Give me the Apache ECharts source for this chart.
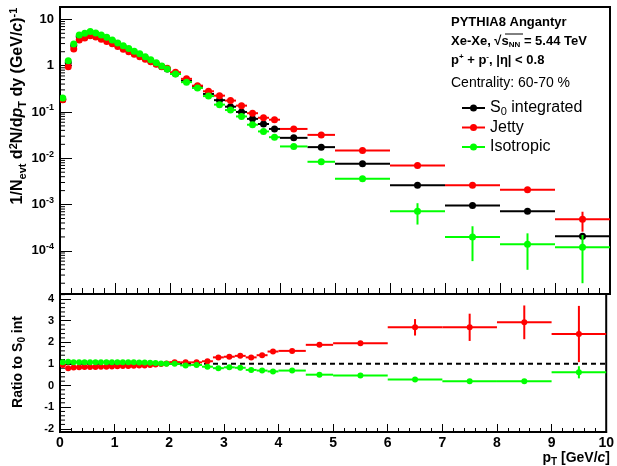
<!DOCTYPE html>
<html><head><meta charset="utf-8">
<script src="https://cdn.jsdelivr.net/npm/echarts@6/dist/echarts.min.js"></script>
<style>html,body{margin:0;padding:0;background:#fff}#c{width:617px;height:466px}</style>
</head><body><div id="c"></div>
<script>
// ---- data ----
const ptEdges = [0,0.1,0.2,0.3,0.4,0.5,0.6,0.7,0.8,0.9,1.0,1.1,1.2,1.3,1.4,1.5,1.6,1.7,1.8,1.9,2.0,2.2,2.4,2.6,2.8,3.0,3.2,3.4,3.6,3.8,4.0,4.5,5,6,7,8,9,10];
const xTickLabels = ['0','1','2','3','4','5','6','7','8','9','10'];

const s0Int = [0.187,1.16,2.73,4.26,4.67,5.14,4.77,4.3,3.8,3.36,2.9,2.52,2.2,1.92,1.7,1.47,1.28,1.1,0.96,0.85,
  0.67,0.475,0.345,0.245,0.18,0.13,0.10,0.071,0.055,0.043,
  0.0276,0.0174,0.0076,0.0026,0.00096,0.00072,0.000207];
const s0IntErr = [0,0,0,0,0,0,0,0,0,0,0,0,0,0,0,0,0,0,0,0, 0,0,0,0,0,0,0,0,0,0, 0,0,0,0.0001,0.00006,0.00005,0.00003];

const jetty = [0.183,0.95,2.3,3.6,3.96,4.42,4.15,3.74,3.34,2.99,2.61,2.27,2.0,1.77,1.56,1.38,1.22,1.07,0.95,0.875,
  0.72,0.52,0.37,0.28,0.225,0.176,0.137,0.094,0.075,0.068,
  0.043,0.032,0.0148,0.007,0.0026,0.0021,0.00048];
const jettyErr = [0,0,0,0,0,0,0,0,0,0,0,0,0,0,0,0,0,0,0,0, 0,0,0,0,0,0,0,0,0,0, 0,0.0008,0.0005,0.0004,0.0002,0.0002,0.00022];

const isotropic = [0.20,1.28,2.95,4.6,5.0,5.5,5.1,4.6,4.1,3.6,3.1,2.7,2.35,2.05,1.8,1.56,1.34,1.15,0.98,0.85,
  0.66,0.44,0.33,0.22,0.144,0.11,0.08,0.053,0.038,0.0285,
  0.018,0.0084,0.0036,0.00072,0.0002,0.000139,0.00012];
const isotropicErr = [0,0,0,0,0,0,0,0,0,0,0,0,0,0,0,0,0,0,0,0, 0,0,0,0,0,0,0,0,0,0, 0,0.0004,0.0002,0.00035,0.00014,0.0001,0.0001];

const jettyRatio = [0.95,0.8,0.83,0.84,0.85,0.86,0.86,0.87,0.87,0.88,0.89,0.9,0.9,0.91,0.92,0.93,0.95,0.97,0.99,1.02,
  1.08,1.07,1.07,1.12,1.3,1.33,1.37,1.3,1.4,1.57,
  1.6,1.88,1.95,2.69,2.69,2.92,2.38];
const jettyRatioErr = [0,0,0,0,0,0,0,0,0,0,0,0,0,0,0,0,0,0,0,0, 0,0,0,0,0,0,0,0,0,0, 0.04,0.06,0.08,0.38,0.63,0.78,1.3];

const isotropicRatio = [1.07,1.1,1.08,1.08,1.07,1.07,1.07,1.07,1.08,1.07,1.07,1.07,1.07,1.07,1.06,1.06,1.05,1.04,1.02,1.0,
  1.0,0.93,0.95,0.87,0.8,0.84,0.82,0.72,0.69,0.65,
  0.69,0.5,0.46,0.28,0.2,0.2,0.61];
const isotropicRatioErr = [0,0,0,0,0,0,0,0,0,0,0,0,0,0,0,0,0,0,0,0, 0,0,0,0,0,0,0,0,0,0, 0,0.02,0.02,0.04,0.04,0.04,0.28];

const refLine = [[0,1],[10,1]];

// ---- chart ----
const F = "'Liberation Sans', Arial, Helvetica, sans-serif";
const Y_MIN = 1.17e-5, Y_MAX = 18.5;
const R_MIN = -2.15, R_MAX = 4.23;

function binSeries(name, color, gi, vals, errs, r, z) {
  const data = vals.map((v, i) => [(ptEdges[i] + ptEdges[i+1]) / 2, v, ptEdges[i], ptEdges[i+1], errs[i]]);
  return {
    type: 'custom', name, xAxisIndex: gi, yAxisIndex: gi, z, clip: true, silent: true,
    encode: {x: 0, y: 1}, data,
    renderItem(params, api) {
      const x = api.value(0), y = api.value(1), xl = api.value(2), xh = api.value(3), e = api.value(4);
      const p = api.coord([x, y]);
      const pl = api.coord([xl, y]);
      const ph = api.coord([xh, y]);
      const ch = [{type: 'line', shape: {x1: pl[0], y1: p[1], x2: ph[0], y2: p[1]}, style: {stroke: color, lineWidth: 2}}];
      if (e > 0) {
        let lo = y - e; if (gi === 0 && lo < Y_MIN) lo = Y_MIN;
        const a = api.coord([x, lo]), b = api.coord([x, y + e]);
        ch.push({type: 'line', shape: {x1: p[0], y1: a[1], x2: p[0], y2: b[1]}, style: {stroke: color, lineWidth: 2}});
      }
      ch.push({type: 'circle', shape: {cx: p[0], cy: p[1], r}, style: {fill: color}});
      return {type: 'group', children: ch};
    }
  };
}

function tickSeries(gi, values, len) {
  return {
    type: 'custom', xAxisIndex: gi, yAxisIndex: gi, silent: true, z: 1, clip: false,
    encode: {x: 0, y: 1}, data: values.map(v => [0, v]),
    renderItem(params, api) {
      const p = api.coord([0, api.value(1)]);
      return {type: 'line', shape: {x1: p[0], y1: p[1], x2: p[0] + len, y2: p[1]}, style: {stroke: '#000', lineWidth: 1}};
    }
  };
}

const logMinor = [];
for (let k = -5; k <= 1; k++) for (let m = 2; m <= 9; m++) { const v = m * Math.pow(10, k); if (v > Y_MIN && v < Y_MAX) logMinor.push(v); }
const ratioMinor = [];
for (let i = -10; i <= 21; i++) { const v = i * 0.2; if (i % 5 !== 0 && v > R_MIN && v < R_MAX) ratioMinor.push(+v.toFixed(2)); }

const sup9 = {fontSize: 9, fontWeight: 'bold', fontFamily: F, padding: [0, 0, 8, 0]};
const xAxisBase = (gi, showLabels, tl, ml) => ({
  type: 'value', gridIndex: gi, min: 0, max: 10, interval: 1,
  axisLine: {show: true, onZero: false, lineStyle: {color: '#000', width: 2}},
  axisTick: {show: true, inside: true, length: tl, lineStyle: {color: '#000', width: 1}},
  minorTick: {show: true, splitNumber: 5, length: ml, lineStyle: {color: '#000', width: 1}},
  splitLine: {show: false},
  axisLabel: {show: showLabels, color: '#000', fontSize: 14, fontWeight: 'bold', fontFamily: F, margin: 4,
    formatter: v => xTickLabels[Math.round(v)] || ''}
});

const option = {
  animation: false,
  backgroundColor: '#fff',
  grid: [
    {left: 60, top: 7, width: 550, height: 287, show: true, borderColor: '#000', borderWidth: 2, backgroundColor: 'transparent'},
    {left: 60, top: 294, width: 550, height: 138, show: true, borderColor: '#000', borderWidth: 2, backgroundColor: 'transparent'}
  ],
  xAxis: [xAxisBase(0, false, 11, 6), xAxisBase(1, true, 8, 4)],
  yAxis: [
    {type: 'log', logBase: 10, gridIndex: 0, min: Y_MIN, max: Y_MAX,
     axisLine: {show: true, onZero: false, lineStyle: {color: '#000', width: 2}},
     axisTick: {show: true, inside: true, length: 12, lineStyle: {color: '#000', width: 1}},
     splitLine: {show: false},
     axisLabel: {color: '#000', fontSize: 13, fontWeight: 'bold', fontFamily: F, margin: 6,
       formatter: v => {
         const l = Math.log10(v), k = Math.round(l);
         if (Math.abs(l - k) > 1e-6) return '';
         if (k === 1) return '{b|10}';
         if (k === 0) return '{b|1}';
         return '{b|10}{sup|' + k + '}';
       },
       rich: {b: {fontSize: 13, fontWeight: 'bold', fontFamily: F}, sup: sup9}}
    },
    {type: 'value', gridIndex: 1, min: R_MIN, max: R_MAX, splitNumber: 6,
     axisLine: {show: true, onZero: false, lineStyle: {color: '#000', width: 2}},
     axisTick: {show: true, inside: true, length: 11, lineStyle: {color: '#000', width: 1}},
     splitLine: {show: false},
     axisLabel: {color: '#000', fontSize: 11, fontWeight: 'bold', fontFamily: F, margin: 6,
       formatter: v => Math.abs(v - Math.round(v)) > 1e-6 ? '' : String(Math.round(v))}
    }
  ],
  series: [
    tickSeries(0, logMinor, 5),
    tickSeries(1, ratioMinor, 5),
    {type: 'line', xAxisIndex: 1, yAxisIndex: 1, data: refLine, symbol: 'none', silent: true, z: 2,
     lineStyle: {color: '#000', width: 2, type: [5, 4]}},
    binSeries('S0 integrated', '#000000', 0, s0Int, s0IntErr, 3.5, 3),
    binSeries('Jetty', '#ff0000', 0, jetty, jettyErr, 3.5, 4),
    binSeries('Isotropic', '#00ff00', 0, isotropic, isotropicErr, 3.5, 5),
    binSeries('Jetty ratio', '#ff0000', 1, jettyRatio, jettyRatioErr, 3, 4),
    binSeries('Isotropic ratio', '#00ff00', 1, isotropicRatio, isotropicRatioErr, 3, 5)
  ],
  graphic: [
    {type: 'text', x: 18, y: 106, rotation: Math.PI / 2, style: {
      text: '1/N{sub|evt} d{sup|2}N/d{it|p}{sub|T} dy (GeV/{it|c}){sup|-1}',
      fontSize: 16, fontWeight: 'bold', fontFamily: F, fill: '#000', align: 'center', verticalAlign: 'middle',
      rich: {
        sub: {fontSize: 11, fontWeight: 'bold', fontFamily: F, padding: [9, 0, 0, 0]},
        sup: {fontSize: 11, fontWeight: 'bold', fontFamily: F, padding: [0, 0, 9, 0]},
        it: {fontSize: 16, fontWeight: 'bold', fontStyle: 'italic', fontFamily: F}
      }}},
    {type: 'text', x: 18, y: 362, rotation: Math.PI / 2, style: {
      text: 'Ratio to S{sub|0} int', fontSize: 14, fontWeight: 'bold', fontFamily: F, fill: '#000',
      align: 'center', verticalAlign: 'middle',
      rich: {sub: {fontSize: 10, fontWeight: 'bold', fontFamily: F, padding: [8, 0, 0, 0]}}}},
    {type: 'text', x: 610, y: 458, style: {
      text: 'p{sub|T} [GeV/{it|c}]', fontSize: 14, fontWeight: 'bold', fontFamily: F, fill: '#000',
      align: 'right', verticalAlign: 'middle',
      rich: {sub: {fontSize: 10, fontWeight: 'bold', fontFamily: F, padding: [8, 0, 0, 0]},
             it: {fontSize: 14, fontWeight: 'bold', fontStyle: 'italic', fontFamily: F}}}},
    {type: 'text', x: 451, y: 22.5, style: {text: 'PYTHIA8 Angantyr', fontSize: 13, fontWeight: 'bold', fontFamily: F, fill: '#000', verticalAlign: 'middle'}},
    {type: 'text', x: 451, y: 41.5, style: {text: 'Xe-Xe, \u221As{sub|NN} = 5.44 TeV', fontSize: 13, fontWeight: 'bold', fontFamily: F, fill: '#000', verticalAlign: 'middle',
      rich: {sub: {fontSize: 8, fontWeight: 'bold', fontFamily: F, padding: [7, 0, 0, 0]}}}},
    {type: 'line', shape: {x1: 505, y1: 34, x2: 523, y2: 34}, style: {stroke: '#000', lineWidth: 1}},
    {type: 'text', x: 451, y: 60, style: {text: 'p{sup|+} + p{sup|-}, |\u03B7| < 0.8', fontSize: 13, fontWeight: 'bold', fontFamily: F, fill: '#000', verticalAlign: 'middle',
      rich: {sup: {fontSize: 8, fontWeight: 'bold', fontFamily: F, padding: [0, 0, 7, 0]}}}},
    {type: 'text', x: 451, y: 83, style: {text: 'Centrality: 60-70 %', fontSize: 14, fontFamily: F, fill: '#000', verticalAlign: 'middle'}},
    // legend
    {type: 'line', shape: {x1: 462, y1: 108, x2: 485, y2: 108}, style: {stroke: '#000', lineWidth: 2}},
    {type: 'circle', shape: {cx: 473.5, cy: 108, r: 3.5}, style: {fill: '#000'}},
    {type: 'text', x: 490, y: 108, style: {text: 'S{sub|0} integrated', fontSize: 16, fontFamily: F, fill: '#000', verticalAlign: 'middle',
      rich: {sub: {fontSize: 11, fontFamily: F, padding: [8, 0, 0, 0]}}}},
    {type: 'line', shape: {x1: 462, y1: 127.5, x2: 485, y2: 127.5}, style: {stroke: '#ff0000', lineWidth: 2}},
    {type: 'circle', shape: {cx: 473.5, cy: 127.5, r: 3.5}, style: {fill: '#ff0000'}},
    {type: 'text', x: 490, y: 127.5, style: {text: 'Jetty', fontSize: 16, fontFamily: F, fill: '#000', verticalAlign: 'middle'}},
    {type: 'line', shape: {x1: 462, y1: 147, x2: 485, y2: 147}, style: {stroke: '#00ff00', lineWidth: 2}},
    {type: 'circle', shape: {cx: 473.5, cy: 147, r: 3.5}, style: {fill: '#00ff00'}},
    {type: 'text', x: 490, y: 147, style: {text: 'Isotropic', fontSize: 16, fontFamily: F, fill: '#000', verticalAlign: 'middle'}}
  ]
};
const chart = echarts.init(document.getElementById('c'), null, {renderer: 'canvas'});
chart.setOption(option);
</script>
</body></html>
